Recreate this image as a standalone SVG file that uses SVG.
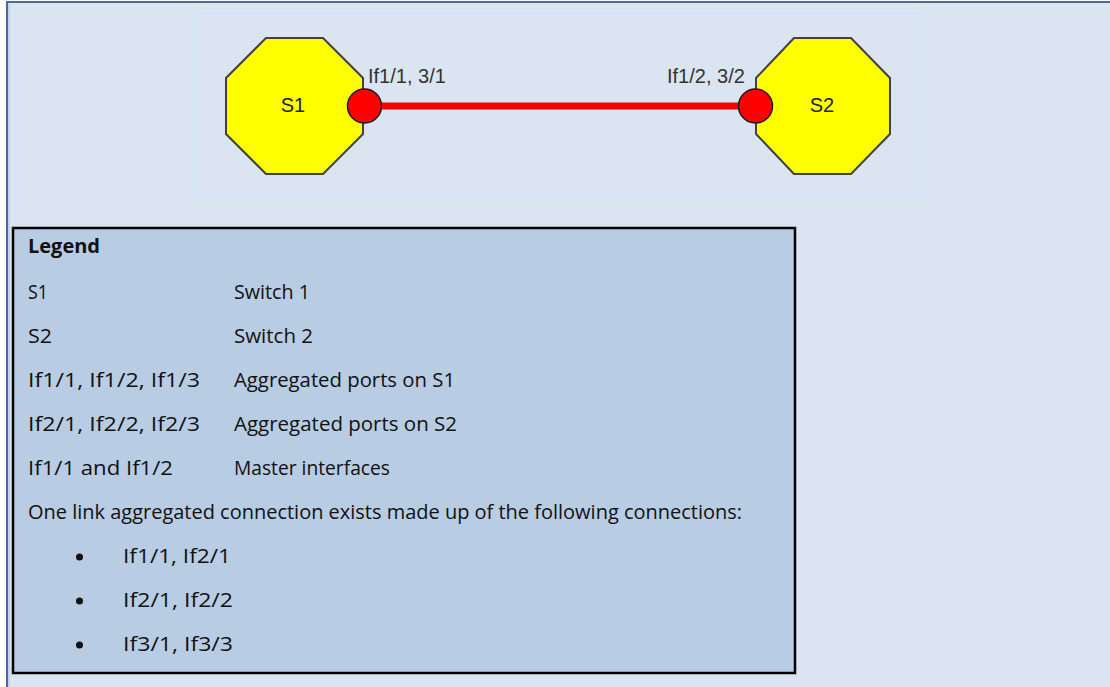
<svg xmlns="http://www.w3.org/2000/svg" width="1110" height="687" viewBox="0 0 1110 687">
<style>
.lbl{font-family:"Liberation Sans",Arial,sans-serif;font-size:20px;fill:#333333}
.nm{font-family:"Liberation Sans",Arial,sans-serif;font-size:20px;fill:#222222;text-anchor:middle}
.lg{font-family:"Open Sans","Liberation Sans",Arial,sans-serif;font-size:20px;fill:#111111}
.sw{fill:#ffff00;stroke:#404040;stroke-width:2}
.port{fill:#ff0000;stroke:#1a1a1a;stroke-width:1.5}
</style>
<rect x="0" y="0" width="1110" height="687" fill="#ffffff"/>
<rect x="7" y="2" width="1110" height="700" fill="#dbe5f1" stroke="#4a6a9a" stroke-width="2"/>
<line x1="9" y1="4" x2="9" y2="687" stroke="#b8cce4" stroke-width="1.5"/>
<rect x="193.5" y="13.5" width="734" height="179" fill="none" stroke="#d0e5fb" stroke-width="1.5"/>
<g id="connectors">
<line x1="364" y1="106" x2="755" y2="106" stroke="#ff0000" stroke-width="7"/>
</g>
<g id="S1">
<polygon class="sw" points="266,38 323,38 363,78 363,134 323,174 266,174 226,134 226,78"/>
<text class="nm" x="293" y="112">S1</text>
</g>
<g id="S2">
<polygon class="sw" points="794,38 851,38 890,78 890,134 851,174 794,174 756,134 756,78"/>
<text class="nm" x="822" y="112">S2</text>
</g>
<g id="port-S1">
<circle class="port" cx="364.5" cy="106" r="17"/>
<text class="lbl" x="368" y="83">If1/1, 3/1</text>
</g>
<g id="port-S2">
<circle class="port" cx="755.5" cy="106" r="17"/>
<text class="lbl" x="667" y="83">If1/2, 3/2</text>
</g>
<g id="legend">
<rect x="13" y="228" width="782" height="445" fill="#b8cce4" stroke="#000000" stroke-width="2.5"/>
<text class="lg" x="28" y="253" font-weight="bold" textLength="72" lengthAdjust="spacingAndGlyphs">Legend</text>
<text class="lg" x="28" y="299" textLength="20" lengthAdjust="spacingAndGlyphs">S1</text>
<text class="lg" x="234" y="299" textLength="76" lengthAdjust="spacingAndGlyphs">Switch 1</text>
<text class="lg" x="28" y="343" textLength="24" lengthAdjust="spacingAndGlyphs">S2</text>
<text class="lg" x="234" y="343" textLength="79" lengthAdjust="spacingAndGlyphs">Switch 2</text>
<text class="lg" x="28" y="387" textLength="172" lengthAdjust="spacingAndGlyphs">If1/1, If1/2, If1/3</text>
<text class="lg" x="234" y="387" textLength="221" lengthAdjust="spacingAndGlyphs">Aggregated ports on S1</text>
<text class="lg" x="28" y="431" textLength="172" lengthAdjust="spacingAndGlyphs">If2/1, If2/2, If2/3</text>
<text class="lg" x="234" y="431" textLength="223" lengthAdjust="spacingAndGlyphs">Aggregated ports on S2</text>
<text class="lg" x="28" y="475" textLength="145" lengthAdjust="spacingAndGlyphs">If1/1 and If1/2</text>
<text class="lg" x="234" y="475" textLength="156" lengthAdjust="spacingAndGlyphs">Master interfaces</text>
<text class="lg" x="28" y="519" textLength="714" lengthAdjust="spacingAndGlyphs">One link aggregated connection exists made up of the following connections:</text>
<circle cx="79.5" cy="557" r="3.5" fill="#111111"/>
<text class="lg" x="123" y="563" textLength="108" lengthAdjust="spacingAndGlyphs">If1/1, If2/1</text>
<circle cx="79.5" cy="601" r="3.5" fill="#111111"/>
<text class="lg" x="123" y="607" textLength="110" lengthAdjust="spacingAndGlyphs">If2/1, If2/2</text>
<circle cx="79.5" cy="645" r="3.5" fill="#111111"/>
<text class="lg" x="123" y="651" textLength="110" lengthAdjust="spacingAndGlyphs">If3/1, If3/3</text>
</g>
</svg>
